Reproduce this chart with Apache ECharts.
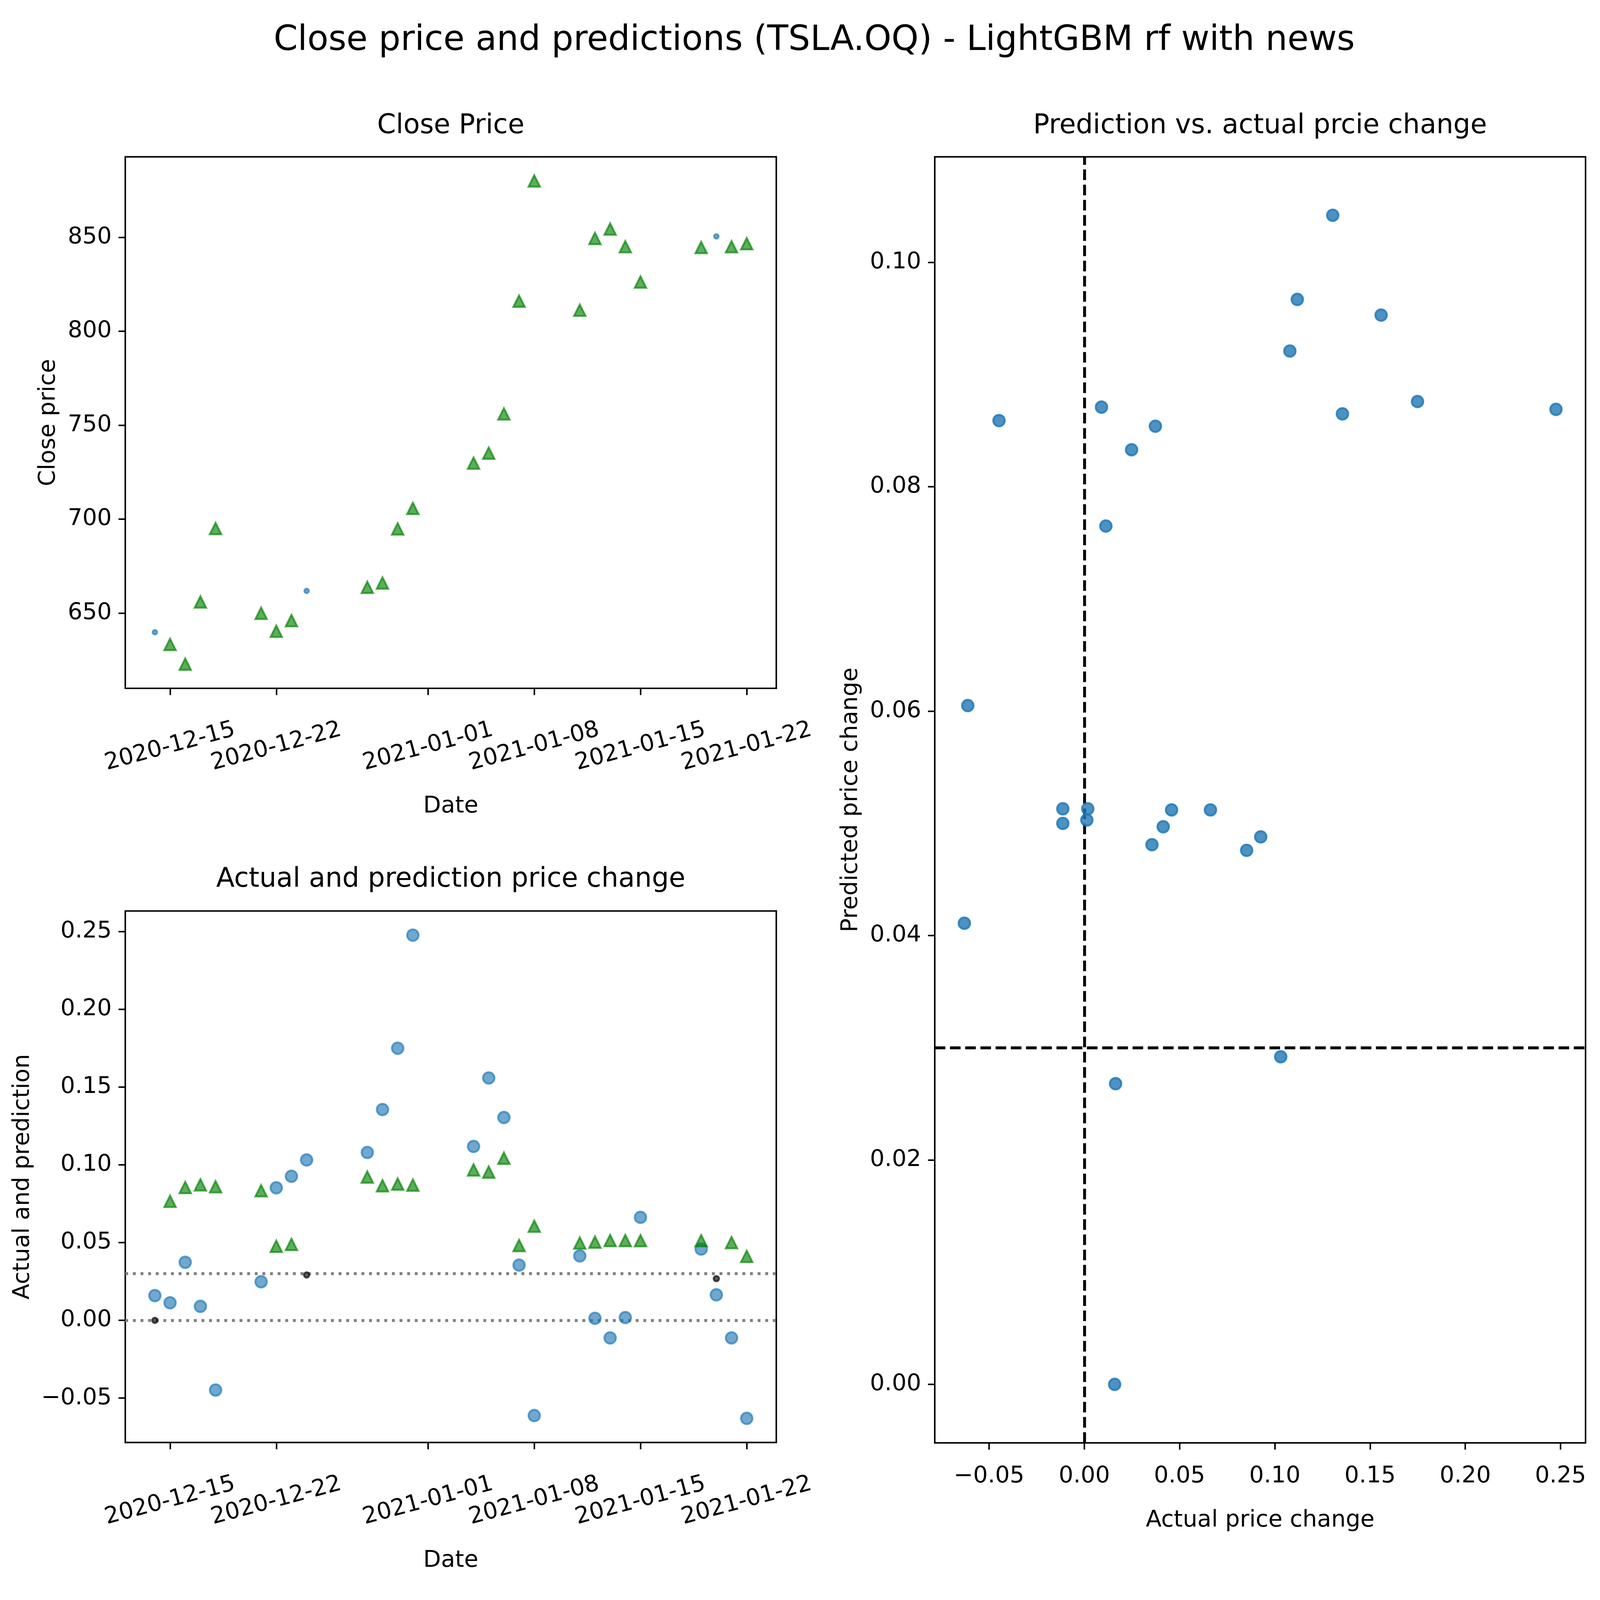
<!DOCTYPE html>
<html>
<head>
<meta charset="utf-8">
<script src="https://cdn.jsdelivr.net/npm/echarts@6/dist/echarts.min.js"></script>
<style>
html, body { margin: 0; padding: 0; background: #ffffff; overflow: hidden; }
#chart { width: 100vw; height: 100vh; }
</style>
</head>
<body>
<div id="chart"></div>
<script>
// ---------------- data ----------------
const dates = ['2020-12-14','2020-12-15','2020-12-16','2020-12-17','2020-12-18',
  '2020-12-21','2020-12-22','2020-12-23','2020-12-24',
  '2020-12-28','2020-12-29','2020-12-30','2020-12-31',
  '2021-01-04','2021-01-05','2021-01-06','2021-01-07','2021-01-08',
  '2021-01-11','2021-01-12','2021-01-13','2021-01-14','2021-01-15',
  '2021-01-19','2021-01-20','2021-01-21','2021-01-22'];
const closePrice = [639.8, 633.3, 622.8, 655.9, 695.0,
  649.9, 640.3, 646.0, 661.8,
  663.7, 666.0, 694.8, 705.7,
  729.8, 735.1, 756.0, 816.0, 880.0,
  811.2, 849.4, 854.4, 845.0, 826.2,
  844.6, 850.5, 845.0, 846.6];
const actualChange = [0.0159, 0.0113, 0.0373, 0.0090, -0.0448,
  0.0248, 0.0852, 0.0926, 0.1031,
  0.1079, 0.1355, 0.1749, 0.2476,
  0.1118, 0.1558, 0.1304, 0.0355, -0.0612,
  0.0414, 0.0013, -0.0113, 0.0018, 0.0662,
  0.0458, 0.0164, -0.0113, -0.0630];
const predictedChange = [0.0000, 0.0765, 0.0854, 0.0871, 0.0859,
  0.0833, 0.0476, 0.0488, 0.0292,
  0.0921, 0.0865, 0.0876, 0.0869,
  0.0967, 0.0953, 0.1042, 0.0481, 0.0605,
  0.0497, 0.0503, 0.0513, 0.0513, 0.0512,
  0.0512, 0.0268, 0.0500, 0.0411];
const threshold = 0.03;
const dateTicks = ['2020-12-15','2020-12-22','2021-01-01','2021-01-08','2021-01-15','2021-01-22'];
const closeTicks = [650, 700, 750, 800, 850];
const changeTicks = [-0.05, 0, 0.05, 0.10, 0.15, 0.20, 0.25];
const predTicks = [0, 0.02, 0.04, 0.06, 0.08, 0.10];

const titleText = 'Close price and predictions (TSLA.OQ) - LightGBM rf with news';

// ---------------- helpers ----------------
const FONT = 'DejaVu Sans';
const el = document.getElementById('chart');
const W = el.clientWidth || 7088, H = el.clientHeight || 4714;
const kx = W / 7088, ky = H / 4714, k = Math.min(kx, ky);
const X = v => v * kx, Y = v => v * ky, S = v => v * k;
// vertical gap measured from an axis to the near edge of a text of font f, keeping the text centre in place
const gapY = (g, f) => Y(g + f / 2) - S(f) / 2;
const gapX = (g, f) => X(g + f / 2) - S(f) / 2;

const toTs = s => { const p = s.split('-').map(Number); return Date.UTC(p[0], p[1] - 1, p[2]); };
const pad2 = n => (n < 10 ? '0' : '') + n;
const fmtDate = v => { const d = new Date(v); return d.getUTCFullYear() + '-' + pad2(d.getUTCMonth() + 1) + '-' + pad2(d.getUTCDate()); };
const fmt2 = v => { const r = Math.round(v * 100) / 100; return (r < 0 ? '\u2212' : '') + Math.abs(r).toFixed(2); };
function range(arr) {
  const mn = Math.min.apply(null, arr), mx = Math.max.apply(null, arr);
  const m = (mx - mn) * 0.05;
  return [mn - m, mx + m];
}
const ts = dates.map(toTs);
const tickTs = dateTicks.map(toTs);
const xDate = range(ts);
const yClose = range(closePrice);
const yChange = range(actualChange.concat(predictedChange));
const xAct = range(actualChange);
const yPred = range(predictedChange);

const buyIdx = [], holdIdx = [];
predictedChange.forEach((p, i) => (p >= threshold ? buyIdx : holdIdx).push(i));

const BLUE = '#1f77b4', BLUE_A = 'rgba(31,119,180,0.8)';
const GREEN_A = 'rgba(0,128,0,0.8)', BLACK_A = 'rgba(0,0,0,0.8)';
const FSR = 102;
const SPINE = S(6.8), TICKLEN = S(30), FS = S(FSR), MS = S(51), EW = S(8.5);

function baseAxis(extra) {
  return Object.assign({
    axisLine: { show: false, onZero: false },
    splitLine: { show: false },
    nameTextStyle: { fontFamily: FONT, fontSize: FS, color: '#000' }
  }, extra);
}
function dateAxis(gi) {
  return baseAxis({
    type: 'value', gridIndex: gi, min: xDate[0], max: xDate[1],
    name: 'Date', nameLocation: 'middle', nameGap: gapY(297, FSR),
    axisTick: { show: true, inside: false, length: TICKLEN, customValues: tickTs, lineStyle: { color: '#000', width: SPINE } },
    axisLabel: { customValues: tickTs, formatter: fmtDate, rotate: 15, align: 'center', verticalAlign: 'middle',
      margin: Y(172), hideOverlap: false, fontFamily: FONT, fontSize: FS, color: '#000', showMinLabel: true, showMaxLabel: true }
  });
}
function valAxis(gi, mn, mx, ticks, fmt, name, gap, isY) {
  return baseAxis({
    type: 'value', gridIndex: gi, min: mn, max: mx, scale: true,
    name: name, nameLocation: 'middle', nameGap: isY ? gapX(gap, FSR) : gapY(gap, FSR), nameRotate: isY ? 90 : 0,
    axisTick: { show: true, inside: false, length: TICKLEN, customValues: ticks, lineStyle: { color: '#000', width: SPINE } },
    axisLabel: { customValues: ticks, formatter: fmt, margin: isY ? X(60) : gapY(48, FSR), hideOverlap: false,
      fontFamily: FONT, fontSize: FS, color: '#000', showMinLabel: true, showMaxLabel: true }
  });
}
const gridStyle = { show: true, borderColor: '#000', borderWidth: SPINE, backgroundColor: 'transparent', containLabel: false, outerBoundsMode: 'none' };

const titleStyle = (txt, x, top, fs) => ({
  text: txt, left: X(x), top: Y(top + fs / 2) - S(fs) / 2, textAlign: 'center', padding: 0,
  textStyle: { fontFamily: FONT, fontSize: S(fs), fontWeight: 'normal', color: '#000' }
});

const option = {
  backgroundColor: '#ffffff',
  animation: false,
  title: [
    titleStyle(titleText, 3607, 45, 153),
    titleStyle('Close Price', 1997, 312, 119),
    titleStyle('Actual and prediction price change', 1997, 2532, 119),
    titleStyle('Prediction vs. actual prcie change', 5582, 312, 119)
  ],
  grid: [
    Object.assign({ left: X(555), top: Y(462), width: X(2884), height: Y(1566) }, gridStyle),
    Object.assign({ left: X(555), top: Y(2684), width: X(2884), height: Y(1566) }, gridStyle),
    Object.assign({ left: X(4141), top: Y(462), width: X(2883), height: Y(3789) }, gridStyle)
  ],
  xAxis: [
    dateAxis(0),
    dateAxis(1),
    valAxis(2, xAct[0], xAct[1], changeTicks, fmt2, 'Actual price change', 178, false)
  ],
  yAxis: [
    valAxis(0, yClose[0], yClose[1], closeTicks, v => String(Math.round(v)), 'Close price', 288, true),
    valAxis(1, yChange[0], yChange[1], changeTicks, fmt2, 'Actual and prediction', 402, true),
    valAxis(2, yPred[0], yPred[1], predTicks, fmt2, 'Predicted price change', 319, true)
  ],
  series: [
    { // top: prediction above threshold
      type: 'scatter', xAxisIndex: 0, yAxisIndex: 0, z: 3,
      symbol: 'triangle', symbolSize: MS,
      itemStyle: { color: GREEN_A, borderColor: GREEN_A, borderWidth: EW },
      data: buyIdx.map(i => [ts[i], closePrice[i]])
    },
    { // top: prediction below threshold
      type: 'scatter', xAxisIndex: 0, yAxisIndex: 0, z: 3,
      symbol: 'circle', symbolSize: S(20),
      itemStyle: { color: BLUE_A, borderColor: BLUE_A, borderWidth: EW },
      data: holdIdx.map(i => [ts[i], closePrice[i]])
    },
    { // bottom: actual change
      type: 'scatter', xAxisIndex: 1, yAxisIndex: 1, z: 3,
      symbol: 'circle', symbolSize: MS,
      itemStyle: { color: BLUE_A, borderColor: BLUE_A, borderWidth: EW },
      data: ts.map((t, i) => [t, actualChange[i]]),
      markLine: {
        silent: true, z: 1, symbol: ['none', 'none'], label: { show: false },
        lineStyle: { color: '#808080', width: S(12.75), type: [S(12.75), S(21)], cap: 'butt' },
        emphasis: { disabled: true },
        data: [{ yAxis: 0 }, { yAxis: threshold }]
      }
    },
    { // bottom: predicted above threshold
      type: 'scatter', xAxisIndex: 1, yAxisIndex: 1, z: 4,
      symbol: 'triangle', symbolSize: MS,
      itemStyle: { color: GREEN_A, borderColor: GREEN_A, borderWidth: EW },
      data: buyIdx.map(i => [ts[i], predictedChange[i]])
    },
    { // bottom: predicted below threshold
      type: 'scatter', xAxisIndex: 1, yAxisIndex: 1, z: 5,
      symbol: 'circle', symbolSize: S(24),
      itemStyle: { color: BLACK_A, borderColor: BLACK_A, borderWidth: EW },
      data: holdIdx.map(i => [ts[i], predictedChange[i]])
    },
    { // right: prediction vs actual
      type: 'scatter', xAxisIndex: 2, yAxisIndex: 2, z: 3,
      symbol: 'circle', symbolSize: MS,
      itemStyle: { color: BLUE, borderColor: BLUE, borderWidth: EW },
      data: actualChange.map((a, i) => [a, predictedChange[i]]),
      markLine: {
        silent: true, z: 1, symbol: ['none', 'none'], label: { show: false },
        lineStyle: { color: '#000', width: S(12.75), type: [S(47), S(20.4)], cap: 'butt' },
        emphasis: { disabled: true },
        data: [{ xAxis: 0 }, { yAxis: threshold }]
      }
    }
  ]
};

const chart = echarts.init(el, null, { renderer: 'canvas', width: W, height: H });
chart.setOption(option);
</script>
</body>
</html>
